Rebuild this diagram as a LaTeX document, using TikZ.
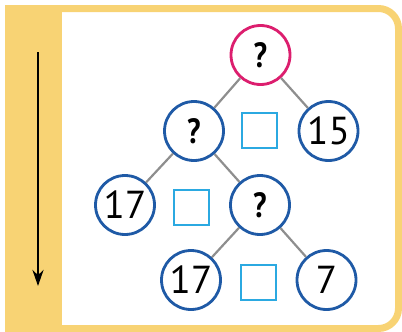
\documentclass[tikz,border=0pt]{standalone}
\usepackage{fontspec}
\setmainfont{PT Sans}
\usetikzlibrary{arrows.meta}
\definecolor{frameyellow}{HTML}{F8D374}
\definecolor{topring}{HTML}{DC1E6E}
\definecolor{ringblue}{HTML}{1F5AA6}
\definecolor{boxblue}{HTML}{2BA9E1}
\definecolor{linkgray}{HTML}{8E8E8E}
\tikzset{
  numcirc/.style={circle, draw=ringblue, line width=2.8pt, minimum size=59pt, inner sep=0pt, fill=white, font=\fontsize{39}{39}\selectfont},
  topcirc/.style={numcirc, draw=topring},
  qmark/.style={font=\fontsize{35}{35}\selectfont\bfseries, xscale=0.85},
  opbox/.style={draw=boxblue, line width=2pt, minimum size=35pt, inner sep=0pt},
  link/.style={draw=linkgray, line width=2.2pt}
}
\begin{document}
\begin{tikzpicture}[x=1pt,y=-1pt]
\useasboundingbox (0,0) rectangle (402,332);
% frame
\draw[frameyellow, line width=7pt, rounded corners=20pt] (8.5,8.5) rectangle (398.5,328.5);
\fill[frameyellow] (5,5) rectangle (62,332);
% arrow
\coordinate (as) at (38,52);
\coordinate (ae) at (38,286);
\draw[line width=2.8pt, -{Stealth[length=16pt,width=11pt]}] (as) -- (ae);
% nodes
\node[topcirc] (t) at (260.5,55) {};
\node[qmark] at (t) {?};
\node[numcirc] (l2a) at (194,131) {};
\node[qmark] at (l2a) {?};
\node[numcirc] (l2b) at (328.5,131) {15};
\node[opbox] (b2) at (259,130) {};
\node[numcirc] (l3a) at (125,205) {17};
\node[numcirc] (l3b) at (260,205) {};
\node[qmark] at (l3b) {?};
\node[opbox] (b3) at (191,207.5) {};
\node[numcirc] (l4a) at (191,280) {17};
\node[numcirc] (l4b) at (326.5,280) {7};
\node[opbox] (b4) at (258,282) {};
% links
\draw[link] (t) -- (l2a);
\draw[link] (t) -- (l2b);
\draw[link] (l2a) -- (l3a);
\draw[link] (l2a) -- (l3b);
\draw[link] (l3b) -- (l4a);
\draw[link] (l3b) -- (l4b);
\end{tikzpicture}
\end{document}
